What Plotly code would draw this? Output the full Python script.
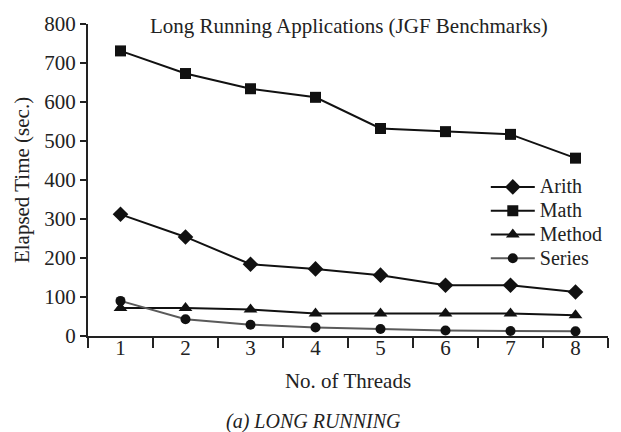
import plotly.graph_objects as go

threads = [1, 2, 3, 4, 5, 6, 7, 8]
arith = [312, 254, 184, 172, 156, 130, 130, 113]
math_ = [731, 673, 634, 612, 532, 524, 517, 456]
method = [72, 72, 68, 58, 58, 58, 58, 53]
series = [90, 43, 29, 22, 18, 14, 13, 12]
names = ["Arith", "Math", "Method", "Series"]

FONT = "Liberation Serif"
FS = 21

fig = go.Figure()
specs = [
    (arith, "diamond", "#111111", 12),
    (math_, "square", "#111111", 11),
    (method, "triangle-up", "#111111", 12),
    (series, "circle", "#5a5a5a", 10),
]
for name, (ys, sym, col, sz) in zip(names, specs):
    fig.add_trace(go.Scatter(
        x=threads, y=ys, name=f'<span style="font-size:20px">{name}</span>',
        mode="lines+markers",
        line=dict(color=col, width=2),
        marker=dict(symbol=sym, size=sz, color="#111111"),
    ))

fig.update_layout(
    width=621, height=432,
    margin=dict(l=88, r=13, t=18, b=96),
    paper_bgcolor="white", plot_bgcolor="white",
    font=dict(family=FONT, size=FS, color="#222222"),
    showlegend=True,
    legend=dict(x=0.765, y=0.532, xanchor="left", yanchor="top",
                bgcolor="rgba(0,0,0,0)", font=dict(size=16, family=FONT),
                tracegroupgap=0, itemwidth=44),
    annotations=[
        dict(text="Long Running Applications (JGF Benchmarks)", x=0.502, y=0.994,
             xref="paper", yref="paper", xanchor="center", yanchor="middle",
             showarrow=False, font=dict(size=FS, family=FONT, color="#222222")),
        dict(text="<i>(a) LONG RUNNING</i>", x=(313 - 88) / 520, y=-0.273,
             xref="paper", yref="paper", xanchor="center", yanchor="middle",
             showarrow=False, font=dict(size=20, family=FONT, color="#222222")),
    ],
)
fig.update_xaxes(
    range=[0.5, 8.5], tickvals=threads, ticks="", showgrid=False, zeroline=False,
    showline=True, linecolor="#222222", linewidth=2,
    tickfont=dict(size=FS, family=FONT), ticklabelstandoff=-8,
    minor=dict(tick0=0.5, dtick=1, ticks="outside", ticklen=10, tickwidth=2,
               tickcolor="#222222", showgrid=False),
    title=dict(text="No. of Threads", font=dict(size=FS, family=FONT), standoff=14),
)
fig.update_yaxes(
    range=[0, 800], dtick=100, ticks="outside", ticklen=6, tickwidth=2,
    tickcolor="#222222", showgrid=False, zeroline=False,
    showline=True, linecolor="#222222", linewidth=2,
    tickfont=dict(size=FS, family=FONT),
    title=dict(text="Elapsed Time (sec.)", font=dict(size=FS, family=FONT), standoff=9),
)

fig.write_html("out.html")
